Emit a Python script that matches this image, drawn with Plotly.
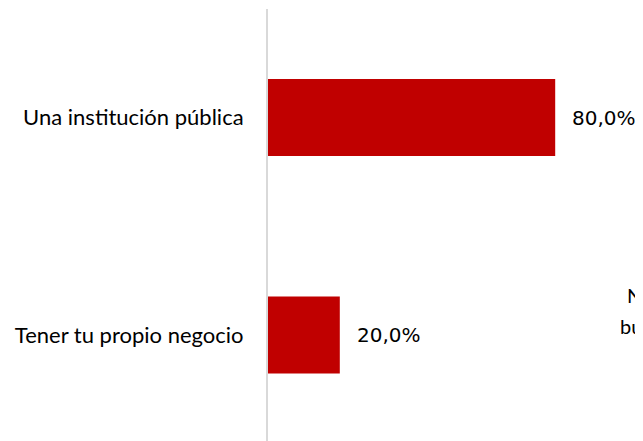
import plotly.graph_objects as go

categories = ["Tener tu propio negocio", "Una institución pública"]
values = [20.0, 80.0]
value_labels = ["20,0%", "80,0%"]
cut_text_top = "N"
cut_text_bottom = "bu"

LABEL_FONT = "Lato"
NUM_FONT = "DejaVu Sans"
OFF = 8  # page body margin

W, H = 643 - OFF, 441 - OFF
L, T = 268 - OFF, 9 - OFF
PW, PH = 359, 432

fig = go.Figure()
fig.add_trace(go.Bar(
    y=categories, x=values, orientation="h",
    marker=dict(color="#c00000", line=dict(width=0)),
    width=0.354, hoverinfo="skip",
))
for c, v, t in zip(categories, values, value_labels):
    fig.add_annotation(x=v, y=c, text=t, showarrow=False, xanchor="left",
                       xshift=15, font=dict(family=NUM_FONT, size=20, color="#000000"))

def px_to_paper(px, py):
    fx, fy = px - OFF, py - OFF
    return (fx - L) / PW, (T + PH - fy) / PH

nx, ny = px_to_paper(625, 295)
bx, by = px_to_paper(618, 326)
fig.add_annotation(xref="paper", yref="paper", x=nx, y=ny, text=cut_text_top,
                   showarrow=False, xanchor="left", yanchor="middle",
                   font=dict(family=LABEL_FONT, size=20, color="#000000"))
fig.add_annotation(xref="paper", yref="paper", x=bx, y=by, text=cut_text_bottom,
                   showarrow=False, xanchor="left", yanchor="middle",
                   font=dict(family=LABEL_FONT, size=20, color="#000000"))

fig.update_layout(
    width=W, height=H,
    margin=dict(l=L, r=W - L - PW, t=T, b=H - T - PH, pad=0),
    paper_bgcolor="white", plot_bgcolor="white",
    showlegend=False,
    xaxis=dict(range=[0, 100], visible=False),
    yaxis=dict(range=[-0.487, 1.499], showline=True, linecolor="#d9d9d9", linewidth=2,
               showgrid=False, zeroline=False, ticks="", ticklabelstandoff=18,
               tickfont=dict(family=LABEL_FONT, size=22, color="#000000")),
)
fig.write_html("out.html")
